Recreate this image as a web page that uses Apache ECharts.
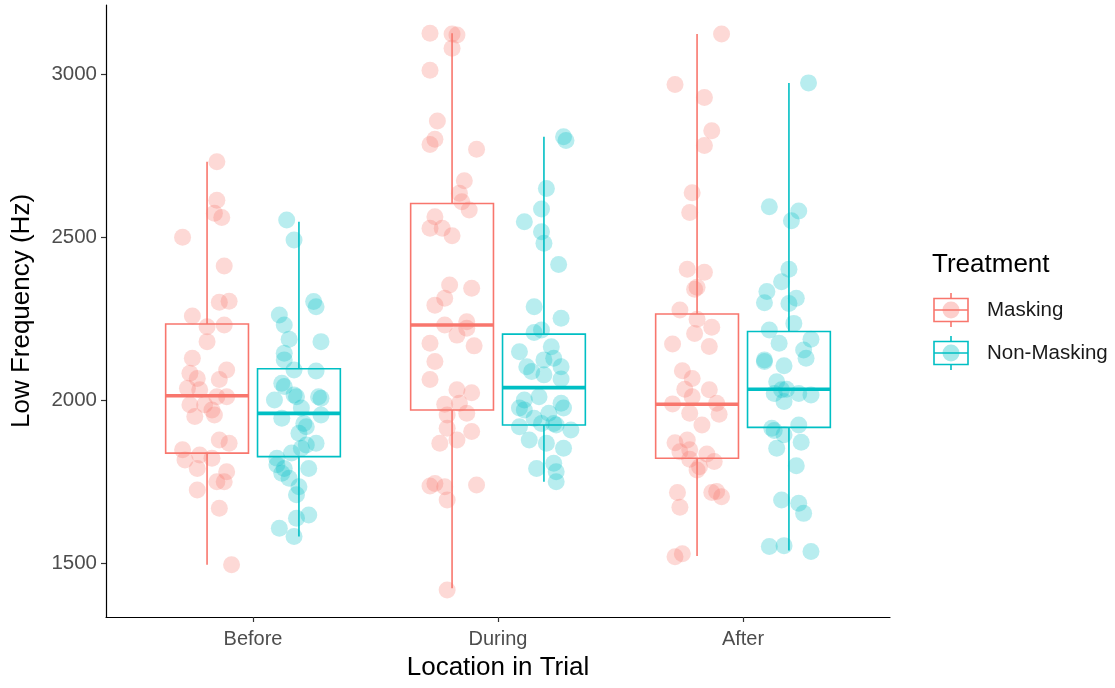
<!DOCTYPE html>
<html>
<head>
<meta charset="utf-8">
<title>Low Frequency by Location in Trial</title>
<script src="https://cdn.jsdelivr.net/npm/echarts@6/dist/echarts.min.js"></script>
<style>
  html, body { margin: 0; padding: 0; background: #ffffff; }
  #chart { width: 1115px; height: 688px; }
</style>
</head>
<body>
<div id="chart"></div>
<script>
// Categories, groups and axis ticks
const categories = ['Before', 'During', 'After'];
const treatments = ['Masking', 'Non-Masking'];
const yTicks = [1500, 2000, 2500, 3000];

// Box summaries per category: [min, Q1, median, Q3, max]
const maskingBox = [
  [1494, 1837, 2013, 2233, 2731],
  [1422, 1969, 2230, 2603, 3125],
  [1521, 1821, 1987, 2264, 3123]
];
const nonMaskingBox = [
  [1581, 1826, 1959, 2096, 2547],
  [1749, 1923, 2038, 2202, 2808],
  [1538, 1916, 2033, 2210, 2973]
];

// Individual observations (Hz) and their horizontal jitter (category units)
const maskingBefore = [2731, 2613, 2573, 2560, 2499, 2411, 2300, 2303, 2258, 2225, 2230, 2179, 2128, 2082, 2092, 2066, 2063, 2036, 2031, 2010, 2010, 1985, 1985, 1969, 1954, 1949, 1877, 1867, 1847, 1816, 1831, 1821, 1790, 1780, 1749, 1749, 1724, 1668, 1494];
const maskingBeforeJitter = [0.04, 0.04, 0.03, 0.06, -0.10, 0.07, 0.05, 0.09, -0.06, 0.00, 0.07, 0.00, -0.06, -0.07, 0.08, -0.04, 0.05, -0.08, -0.03, 0.04, 0.08, -0.07, -0.01, 0.02, 0.03, -0.05, 0.05, 0.09, -0.10, -0.09, -0.03, 0.02, -0.04, 0.08, 0.04, 0.07, -0.04, 0.05, 0.10];

const nonMaskingBefore = [2552, 2491, 2302, 2286, 2261, 2230, 2186, 2179, 2143, 2123, 2092, 2089, 2051, 2041, 2000, 2015, 2010, 2010, 2005, 1975, 1944, 1954, 1928, 1918, 1898, 1867, 1862, 1852, 1821, 1837, 1801, 1790, 1790, 1775, 1760, 1734, 1709, 1647, 1637, 1606, 1581];
const nonMaskingBeforeJitter = [-0.05, -0.02, 0.06, 0.07, -0.08, -0.06, -0.04, 0.09, -0.06, -0.06, -0.02, 0.07, -0.07, -0.06, -0.10, -0.02, -0.01, 0.08, 0.09, 0.01, -0.07, 0.09, 0.02, 0.03, 0.00, 0.07, 0.03, 0.01, -0.09, -0.03, -0.09, -0.06, 0.04, -0.07, -0.04, 0.00, -0.01, 0.04, -0.01, -0.08, -0.02];

const maskingDuring = [3125, 3123, 3120, 3079, 3012, 2856, 2800, 2784, 2769, 2673, 2634, 2608, 2583, 2562, 2527, 2527, 2504, 2353, 2343, 2312, 2291, 2230, 2240, 2220, 2199, 2174, 2166, 2118, 2063, 2031, 2022, 1987, 1990, 1959, 1954, 1913, 1903, 1867, 1877, 1736, 1744, 1734, 1739, 1693, 1417];
const maskingDuringJitter = [-0.09, 0.00, 0.02, 0.00, -0.09, -0.06, -0.07, -0.09, 0.10, 0.05, 0.03, 0.04, 0.07, -0.07, -0.09, -0.04, 0.00, -0.01, 0.08, -0.03, -0.07, -0.03, 0.06, 0.06, 0.02, -0.09, 0.09, -0.07, -0.09, 0.02, 0.08, -0.03, 0.03, 0.06, -0.02, -0.02, 0.08, -0.05, 0.02, -0.09, -0.07, -0.03, 0.10, -0.02, -0.02];

const nonMaskingDuring = [2808, 2796, 2649, 2586, 2547, 2516, 2481, 2416, 2286, 2251, 2207, 2215, 2148, 2163, 2123, 2128, 2102, 2102, 2087, 2077, 2064, 2010, 2000, 1975, 1969, 1990, 1975, 1959, 1944, 1928, 1923, 1928, 1918, 1908, 1877, 1867, 1852, 1790, 1806, 1780, 1749];
const nonMaskingDuringJitter = [0.08, 0.09, 0.01, -0.01, -0.08, -0.01, 0.00, 0.06, -0.04, 0.07, -0.04, -0.01, -0.10, 0.03, 0.00, 0.04, 0.07, -0.07, -0.05, 0.00, 0.07, -0.02, -0.08, -0.10, -0.08, 0.07, 0.08, 0.02, -0.04, -0.01, 0.05, 0.04, -0.10, 0.11, -0.06, 0.01, 0.08, -0.03, 0.04, 0.05, 0.05];

const maskingAfter = [3123, 2968, 2928, 2826, 2781, 2636, 2575, 2401, 2392, 2346, 2340, 2276, 2248, 2223, 2204, 2172, 2164, 2090, 2066, 2033, 2031, 2010, 1988, 1990, 1956, 1959, 1923, 1869, 1877, 1841, 1847, 1834, 1811, 1818, 1795, 1785, 1716, 1671, 1716, 1719, 1703, 1519, 1528];
const maskingAfterJitter = [0.10, -0.09, 0.03, 0.06, 0.03, -0.02, -0.03, -0.04, 0.03, 0.00, -0.01, -0.07, 0.00, 0.06, -0.01, -0.10, 0.05, -0.06, -0.02, -0.05, 0.05, -0.02, -0.10, 0.08, 0.09, -0.03, 0.02, -0.09, -0.04, -0.07, -0.03, 0.04, 0.07, -0.03, 0.01, 0.00, -0.08, -0.07, 0.06, 0.08, 0.10, -0.09, -0.06];

const nonMaskingAfter = [2973, 2593, 2580, 2550, 2401, 2363, 2333, 2298, 2312, 2296, 2235, 2215, 2174, 2186, 2153, 2128, 2123, 2118, 2105, 2056, 2020, 2031, 2033, 2020, 2015, 1995, 1913, 1906, 1893, 1923, 1852, 1870, 1798, 1693, 1683, 1652, 1550, 1553, 1535];
const nonMaskingAfterJitter = [0.08, -0.08, 0.04, 0.01, 0.00, -0.03, -0.09, -0.10, 0.03, 0.00, 0.02, -0.08, -0.04, 0.09, 0.06, 0.07, -0.10, -0.10, -0.02, -0.05, -0.06, -0.03, -0.01, 0.04, 0.09, -0.02, -0.07, -0.06, -0.02, 0.04, -0.05, 0.05, 0.03, -0.03, 0.04, 0.06, -0.08, -0.02, 0.09];

// ---- presentation ----
const RED = '#F8766D';
const TEAL = '#00BFC4';
const RED_FILL = 'rgba(248,118,109,0.35)';
const TEAL_FILL = 'rgba(0,191,196,0.35)';
const FONT = "'Liberation Sans', Arial, sans-serif";
const dodge = 0.1875;       // half the dodge distance between the two groups
const boxHalfWidth = 0.169; // half of each box's width

const pointGroups = [
  { values: [maskingBefore, maskingDuring, maskingAfter],
    jitter: [maskingBeforeJitter, maskingDuringJitter, maskingAfterJitter],
    offset: -dodge, fill: RED_FILL },
  { values: [nonMaskingBefore, nonMaskingDuring, nonMaskingAfter],
    jitter: [nonMaskingBeforeJitter, nonMaskingDuringJitter, nonMaskingAfterJitter],
    offset: dodge, fill: TEAL_FILL }
];

function boxRows(stats) {
  return stats.map((s, i) => [i + 1].concat(s));
}

function boxRenderer(offset, color) {
  return function (params, api) {
    const c = api.value(0) + offset;
    const left = c - boxHalfWidth;
    const right = c + boxHalfWidth;
    const pMin = api.coord([c, api.value(1)]);
    const pQ1 = api.coord([c, api.value(2)]);
    const pQ3 = api.coord([c, api.value(4)]);
    const pMax = api.coord([c, api.value(5)]);
    const medL = api.coord([left, api.value(3)]);
    const medR = api.coord([right, api.value(3)]);
    const tl = api.coord([left, api.value(4)]);
    const br = api.coord([right, api.value(2)]);
    const thin = { stroke: color, lineWidth: 1.6, fill: null };
    return {
      type: 'group',
      children: [
        { type: 'line', shape: { x1: pQ3[0], y1: pQ3[1], x2: pMax[0], y2: pMax[1] }, style: thin },
        { type: 'line', shape: { x1: pQ1[0], y1: pQ1[1], x2: pMin[0], y2: pMin[1] }, style: thin },
        { type: 'rect', shape: { x: tl[0], y: tl[1], width: br[0] - tl[0], height: br[1] - tl[1] },
          style: { stroke: color, lineWidth: 1.6, fill: '#ffffff' } },
        { type: 'line', shape: { x1: medL[0], y1: medL[1], x2: medR[0], y2: medR[1] },
          style: { stroke: color, lineWidth: 3.6 } }
      ]
    };
  };
}

const series = [
  { type: 'custom', name: treatments[0], renderItem: boxRenderer(-dodge, RED),
    data: boxRows(maskingBox), encode: { x: 0, y: [1, 2, 3, 4, 5] }, z: 2, silent: true },
  { type: 'custom', name: treatments[1], renderItem: boxRenderer(dodge, TEAL),
    data: boxRows(nonMaskingBox), encode: { x: 0, y: [1, 2, 3, 4, 5] }, z: 2, silent: true }
];

pointGroups.forEach((g, gi) => {
  const data = [];
  g.values.forEach((vals, ci) => {
    vals.forEach((v, i) => data.push([ci + 1 + g.offset + g.jitter[ci][i], v]));
  });
  series.push({
    type: 'scatter',
    name: treatments[gi] + ' points',
    data: data,
    symbol: 'circle',
    symbolSize: 17,
    itemStyle: { color: g.fill, borderWidth: 0 },
    z: 3,
    silent: true
  });
});

// Legend keys drawn as small boxplot glyphs with a point
function legendKey(y, color, fill, label) {
  return {
    type: 'group',
    children: [
      { type: 'line', shape: { x1: 951, y1: y - 17, x2: 951, y2: y + 17 }, style: { stroke: color, lineWidth: 1.6 } },
      { type: 'rect', shape: { x: 934, y: y - 11.5, width: 34, height: 23 }, style: { stroke: color, lineWidth: 1.6, fill: '#ffffff' } },
      { type: 'line', shape: { x1: 934, y1: y, x2: 968, y2: y }, style: { stroke: color, lineWidth: 1.6 } },
      { type: 'circle', shape: { cx: 951, cy: y, r: 8.5 }, style: { fill: fill } },
      { type: 'text', x: 987, y: y, style: { text: label, font: '20.5px ' + FONT, fill: '#1a1a1a', textVerticalAlign: 'middle' } }
    ]
  };
}

const chart = echarts.init(document.getElementById('chart'), null, { renderer: 'canvas' });
chart.setOption({
  backgroundColor: '#ffffff',
  animation: false,
  grid: { left: 106, right: 225, top: 5, bottom: 71, containLabel: false },
  xAxis: {
    type: 'value',
    min: 0.4,
    max: 3.6,
    splitLine: { show: false },
    axisLine: { show: true, onZero: false, lineStyle: { color: '#000000', width: 1.2 } },
    axisTick: { show: true, customValues: [1, 2, 3], length: 5, lineStyle: { color: '#333333', width: 1.2 } },
    axisLabel: {
      customValues: [1, 2, 3],
      formatter: v => categories[Math.round(v) - 1],
      color: '#4d4d4d', fontSize: 20, fontFamily: FONT, margin: 12
    }
  },
  yAxis: {
    type: 'value',
    min: 1334,
    max: 3212,
    splitLine: { show: false },
    axisLine: { show: true, onZero: false, lineStyle: { color: '#000000', width: 1.2 } },
    axisTick: { show: true, customValues: yTicks, length: 5, lineStyle: { color: '#333333', width: 1.2 } },
    axisLabel: {
      customValues: yTicks,
      formatter: v => String(v),
      color: '#4d4d4d', fontSize: 20.5, fontFamily: FONT, margin: 9
    }
  },
  series: series,
  graphic: [
    { type: 'text', x: 498, y: 668, style: { text: 'Location in Trial', font: '26px ' + FONT, fill: '#000000', textAlign: 'center', textVerticalAlign: 'middle' } },
    { type: 'text', x: 22, y: 311, rotation: Math.PI / 2, style: { text: 'Low Frequency (Hz)', font: '26px ' + FONT, fill: '#000000', textAlign: 'center', textVerticalAlign: 'middle' } },
    { type: 'text', x: 932, y: 265, style: { text: 'Treatment', font: '26px ' + FONT, fill: '#000000', textVerticalAlign: 'middle' } },
    legendKey(310, RED, RED_FILL, treatments[0]),
    legendKey(353, TEAL, TEAL_FILL, treatments[1])
  ]
});
</script>
</body>
</html>
